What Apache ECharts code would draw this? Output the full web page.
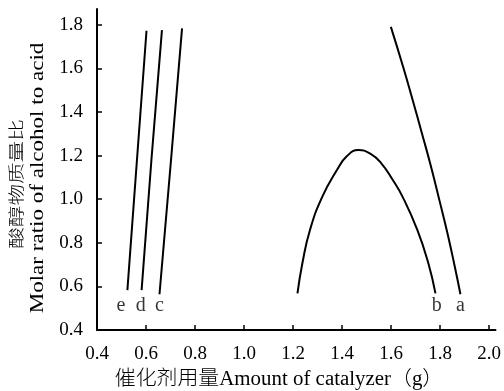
<!DOCTYPE html>
<html>
<head>
<meta charset="utf-8">
<script src="https://cdn.jsdelivr.net/npm/echarts@6/dist/echarts.min.js"></script>
<style>html,body{margin:0;padding:0;background:#fff;}#c{width:504px;height:391px;}</style>
</head>
<body>
<div id="c"></div>
<script>
// Tick values
const xTicks = [0.4, 0.6, 0.8, 1.0, 1.2, 1.4, 1.6, 1.8, 2.0];
const yTicks = [0.4, 0.6, 0.8, 1.0, 1.2, 1.4, 1.6, 1.8];

// Curves (x = catalyst amount, y = molar ratio)
const eX = [0.524, 0.563, 0.602];
const eY = [0.583, 1.180, 1.773];
const dX = [0.582, 0.622, 0.665];
const dY = [0.583, 1.180, 1.776];
const cX = [0.655, 0.702, 0.747];
const cY = [0.564, 1.180, 1.784];
const bX = [1.218, 1.238, 1.269, 1.319, 1.379, 1.420, 1.466, 1.515, 1.560, 1.607, 1.647, 1.707, 1.752, 1.781];
const bY = [0.568, 0.706, 0.859, 1.011, 1.134, 1.198, 1.226, 1.209, 1.165, 1.088, 1.011, 0.859, 0.706, 0.568];
const aX = [1.599, 1.649, 1.688, 1.726, 1.763, 1.797, 1.830, 1.860, 1.883];
const aY = [1.791, 1.608, 1.455, 1.302, 1.149, 0.996, 0.844, 0.690, 0.564];

// Curve labels
const labelNames = ['e', 'd', 'c', 'b', 'a'];
const labelX = [0.498, 0.579, 0.655, 1.786, 1.883];
const labelY = [0.51, 0.51, 0.51, 0.51, 0.51];

const xName = '催化剂用量Amount of catalyzer（g）';
const yNameCn = '酸醇物质量比';
const yNameEn = 'Molar ratio of alcohol to acid';

const zip = (xs, ys) => xs.map((x, i) => [x, ys[i]]);
const serif = '"Liberation Serif", "Times New Roman", serif';
const lineStyle = { color: '#000', width: 2 };

function lineSeries(xs, ys, smooth) {
  return {
    type: 'line', data: zip(xs, ys), smooth: smooth, showSymbol: false,
    lineStyle: lineStyle, silent: true, animation: false
  };
}

const chart = echarts.init(document.getElementById('c'), null, { renderer: 'canvas' });
chart.setOption({
  animation: false,
  backgroundColor: '#fff',
  grid: { left: 97, right: 3, top: 9, bottom: 61 },
  xAxis: {
    type: 'value', min: 0.4, max: 2.026,
    axisLine: { lineStyle: { color: '#000', width: 2 } },
    axisTick: { inside: true, length: 5, lineStyle: { color: '#000', width: 1.5 }, customValues: xTicks },
    axisLabel: { customValues: xTicks, margin: 15, color: '#000', fontSize: 19, fontFamily: serif,
      formatter: v => v.toFixed(1) },
    splitLine: { show: false }
  },
  yAxis: {
    type: 'value', min: 0.4, max: 1.873,
    axisLine: { show: true, lineStyle: { color: '#000', width: 2 } },
    axisTick: { show: true, inside: true, length: 5, lineStyle: { color: '#000', width: 1.5 }, customValues: yTicks },
    axisLabel: { customValues: yTicks, margin: 14, color: '#000', fontSize: 19, fontFamily: serif,
      formatter: v => v.toFixed(1) },
    splitLine: { show: false }
  },
  series: [
    lineSeries(eX, eY, false),
    lineSeries(dX, dY, false),
    lineSeries(cX, cY, false),
    lineSeries(bX, bY, true),
    lineSeries(aX, aY, true),
    {
      type: 'scatter', symbolSize: 0, silent: true,
      data: labelX.map((x, i) => ({ value: [x, labelY[i]], name: labelNames[i] })),
      label: { show: true, position: 'inside', formatter: p => p.name, color: '#000',
        fontSize: 20, fontFamily: serif }
    }
  ],
  graphic: [
    { type: 'text', x: 279, y: 380, scaleX: 1.045, silent: true,
      style: { text: xName, fill: '#000', font: '300 20px "Liberation Serif", "Noto Sans CJK SC", serif',
        align: 'center', verticalAlign: 'middle' } },
    { type: 'text', x: 16, y: 184, rotation: Math.PI / 2, scaleX: 1.35, silent: true,
      style: { text: yNameCn, fill: '#000', font: '300 16px "Noto Sans CJK SC", sans-serif',
        align: 'center', verticalAlign: 'middle' } },
    { type: 'text', x: 38, y: 178, rotation: Math.PI / 2, scaleX: 1.28, silent: true,
      style: { text: yNameEn, fill: '#000', font: '18px "Liberation Serif", serif',
        align: 'center', verticalAlign: 'middle' } }
  ]
});
</script>
</body>
</html>
